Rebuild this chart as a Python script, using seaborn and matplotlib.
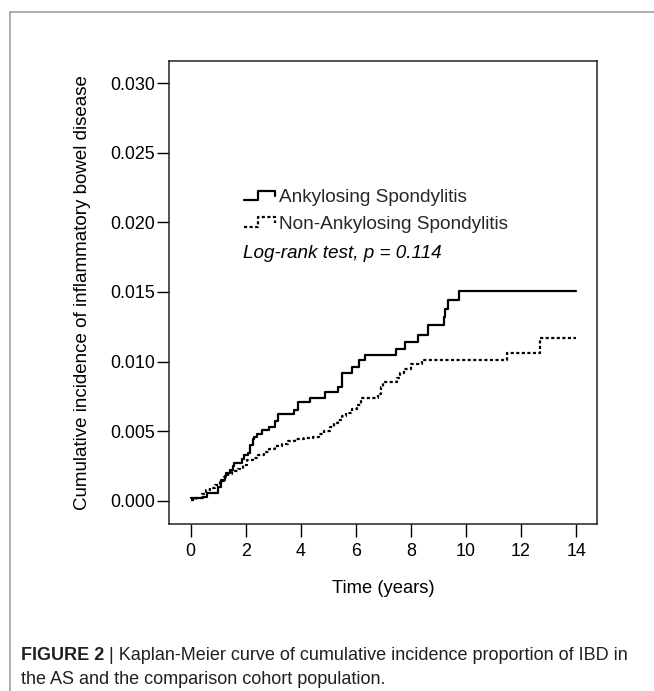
import numpy as np
import pandas as pd
import matplotlib
matplotlib.use("Agg")
import matplotlib.pyplot as plt
import seaborn as sns
from matplotlib.lines import Line2D
from matplotlib.legend_handler import HandlerBase

# ---------------- data ----------------
as_time = [0.0, 0.45, 0.6, 1.0, 1.1, 1.25, 1.3, 1.43, 1.52, 1.58, 1.85, 1.95, 2.08,
           2.15, 2.25, 2.3, 2.4, 2.6, 2.85, 3.05, 3.18, 3.75, 3.9, 4.33, 4.88,
           5.35, 5.5, 5.85, 6.12, 6.33, 7.46, 7.8, 8.27, 8.62, 9.2, 9.25, 9.34,
           9.76, 14.0]
as_cum = [0.0002, 0.0003, 0.00055, 0.0010, 0.0015, 0.0018, 0.0020, 0.0022, 0.0025,
          0.0027, 0.0030, 0.0033, 0.0034, 0.0040, 0.0044, 0.0046, 0.0048, 0.0051,
          0.0053, 0.0057, 0.0062, 0.0065, 0.0071, 0.0074, 0.0078, 0.0082, 0.0092,
          0.0096, 0.0101, 0.0105, 0.0109, 0.0114, 0.0119, 0.0126, 0.0132, 0.0138,
          0.0144, 0.0151, 0.0151]

non_time = [0.0, 0.2, 0.4, 0.55, 0.7, 0.9, 1.05, 1.2, 1.35, 1.5, 1.7, 1.9, 2.05,
            2.25, 2.45, 2.65, 2.85, 3.05, 3.3, 3.55, 3.8, 4.1, 4.45, 4.65, 4.85,
            5.05, 5.2, 5.35, 5.5, 5.65, 5.85, 6.05, 6.2, 6.8, 6.9, 7.0, 7.5, 7.6,
            7.75, 8.0, 8.4, 11.5, 12.7, 14.0]
non_cum = [0.00005, 0.0002, 0.0005, 0.0008, 0.0009, 0.0011, 0.0014, 0.0017, 0.0019,
           0.0021, 0.0023, 0.0026, 0.0029, 0.0031, 0.0033, 0.0035, 0.0037, 0.0039,
           0.0041, 0.0043, 0.0044, 0.0045, 0.0046, 0.0048, 0.0050, 0.0053, 0.0056,
           0.0058, 0.0061, 0.0063, 0.0066, 0.0069, 0.0074, 0.0077, 0.0082, 0.0085,
           0.0088, 0.0092, 0.0095, 0.0098, 0.0101, 0.0106, 0.0117, 0.0117]

x_ticks = [0, 2, 4, 6, 8, 10, 12, 14]
y_ticks = [0.000, 0.005, 0.010, 0.015, 0.020, 0.025, 0.030]
labels = ["Ankylosing Spondylitis", "Non-Ankylosing Spondylitis"]
stat_text = "Log-rank test, p = 0.114"
x_label = "Time (years)"
y_label = "Cumulative incidence of inflammatory bowel disease"
caption_bold = "FIGURE 2"
caption_rest = " | Kaplan-Meier curve of cumulative incidence proportion of IBD in"
caption_line2 = "the AS and the comparison cohort population."

# ---------------- figure ----------------
sns.set_theme(style="white")
plt.rcParams["font.family"] = ["Liberation Sans", "DejaVu Sans"]

W, H = 654, 691
fig = plt.figure(figsize=(W / 100, H / 100), dpi=100)

def fx(px):
    return px / W

def fy(py):
    return 1 - py / H

ax_l, ax_r, ax_t, ax_b = 169.3, 597.0, 61.0, 524.0
ax = fig.add_axes([fx(ax_l), fy(ax_b), (ax_r - ax_l) / W, (ax_b - ax_t) / H])

df_as = pd.DataFrame({"t": as_time, "v": as_cum})
df_non = pd.DataFrame({"t": non_time, "v": non_cum})

sns.lineplot(data=df_as, x="t", y="v", ax=ax, color="black", lw=1.6,
             drawstyle="steps-post", estimator=None, sort=False)
sns.lineplot(data=df_non, x="t", y="v", ax=ax, color="black", lw=1.6,
             linestyle=(0, (1.4, 1.1)), drawstyle="steps-post",
             estimator=None, sort=False)

ax.set_xlim(-0.778, 14.76)
ax.set_ylim(-0.001675, 0.0316)
ax.set_xticks(x_ticks)
ax.set_xticklabels([str(t) for t in x_ticks])
ax.set_yticks(y_ticks)
ax.set_yticklabels([f"{t:.3f}" for t in y_ticks])
ax.tick_params(axis="both", direction="out", length=9, width=1.0, color="black",
               labelsize=12.9, labelcolor="black")
ax.tick_params(axis="y", pad=1.2, left=True)
ax.tick_params(axis="x", pad=5, bottom=True)
for s in ax.spines.values():
    s.set_visible(True)
    s.set_color("#222222")
    s.set_linewidth(1.1)

ax.set_xlabel(x_label, fontsize=13.2, color="black")
ax.set_ylabel(y_label, fontsize=13.5, color="black")
ax.xaxis.set_label_coords(0.5, -0.1206)
ax.yaxis.set_label_coords(-0.182, 0.5)

# legend with step-shaped handles
class StepHandler(HandlerBase):
    def create_artists(self, legend, orig_handle, xdescent, ydescent, width,
                       height, fontsize, trans):
        xs = np.array([0.0, 0.42, 0.42, 0.95, 0.95]) * width - xdescent
        ys = np.array([0.15, 0.15, 0.85, 0.85, 0.45]) * height - ydescent
        line = Line2D(xs, ys)
        line.update_from(orig_handle)
        line.set_drawstyle("default")
        line.set_data(xs, ys)
        line.set_transform(trans)
        return [line]

handles = ax.lines[:2]
leg = ax.legend(handles, labels, handler_map={h: StepHandler() for h in handles},
                frameon=False, loc="upper left",
                bbox_to_anchor=(fx(244), fy(189)), bbox_transform=fig.transFigure,
                borderpad=0, borderaxespad=0, handlelength=1.7, handletextpad=0.12,
                labelspacing=0.48, fontsize=13.7)

fig.text(fx(243), fy(253), stat_text, fontsize=13.6, style="italic",
         ha="left", va="center", color="black")

# outer frame of the figure panel
fig.add_artist(Line2D([fx(10), 1.0], [fy(12), fy(12)], color="#a0a0a0", lw=1.2))
fig.add_artist(Line2D([fx(10), fx(10)], [fy(12), 0.0], color="#a0a0a0", lw=1.2))

# caption
cap_fs = 13.0
t1 = fig.text(fx(21), fy(655), caption_bold, fontsize=cap_fs, fontweight="bold",
              ha="left", va="center", color="#231f20")
fig.canvas.draw()
bb = t1.get_window_extent(renderer=fig.canvas.get_renderer())
fig.text(bb.x1 / W, fy(655), caption_rest, fontsize=cap_fs, ha="left", va="center",
         color="#231f20")
fig.text(fx(21), fy(680), caption_line2, fontsize=cap_fs, ha="left", va="center",
         color="#231f20")

fig.savefig("out.png", dpi=100)
